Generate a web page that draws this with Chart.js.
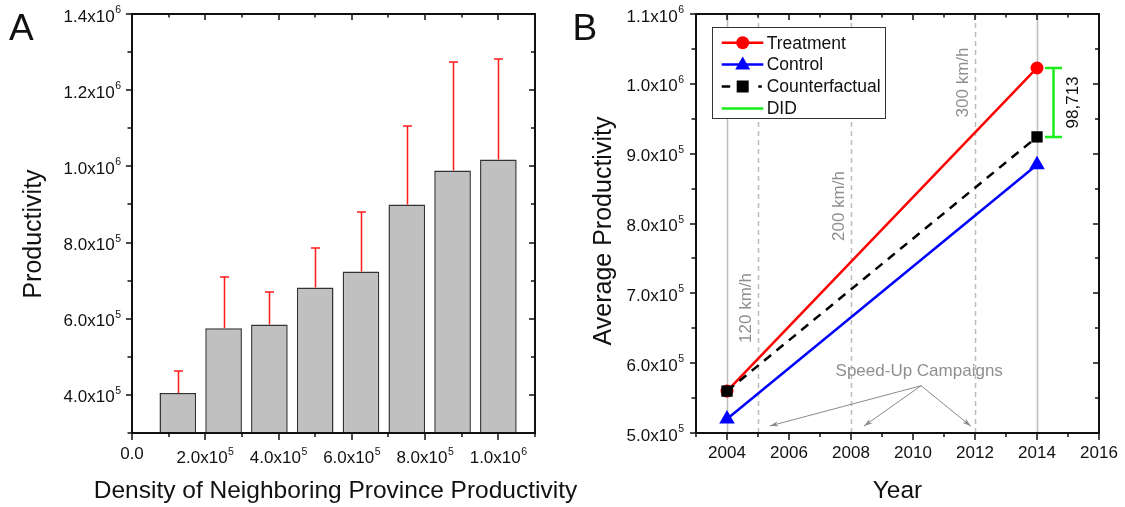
<!DOCTYPE html>
<html>
<head>
<meta charset="utf-8">
<script src="https://cdn.jsdelivr.net/npm/chart.js@4.4.1/dist/chart.umd.min.js"></script>
<style>
  html, body { margin: 0; padding: 0; background: #fff; }
  #wrap { position: relative; width: 1125px; height: 507px; overflow: hidden; }
  canvas { position: absolute; top: 0; }
  #chartA { left: 0; }
  #chartB { left: 560px; }
</style>
</head>
<body>
<div id="wrap">
  <canvas id="chartA" width="620" height="507"></canvas>
  <canvas id="chartB" width="565" height="507"></canvas>
</div>
<script>
// ---- Panel A: productivity by density of neighbouring-province productivity ----
const densityBins     = [125000, 250000, 375000, 500000, 625000, 750000, 875000, 1000000];
const productivity    = [405000, 575000, 585000, 682000, 724000, 900000, 989000, 1018000];
const productivityErr = [57000, 134000, 84000, 104000, 157000, 205000, 285000, 263000];
const tickLabelsAX = [0, 200000, 400000, 600000, 800000, 1000000];
const tickLabelsAY = [400000, 600000, 800000, 1000000, 1200000, 1400000];

// ---- Panel B: difference-in-differences of average productivity ----
const years          = [2004, 2014];
const treatment      = [560000, 1022713];
const control        = [520000, 884000];
const counterfactual = [560000, 924000];
const campaignYears  = [2005, 2008, 2012];
const campaignSpeeds = ['120 km/h', '200 km/h', '300 km/h'];
const tickLabelsBX = [2004, 2006, 2008, 2010, 2012, 2014, 2016];
const tickLabelsBY = [500000, 600000, 700000, 800000, 900000, 1000000, 1100000];

const FONT = "'Liberation Sans', Arial, Helvetica, sans-serif";
const TICK_PX = 17, SUP_PX = 10.5;

// split a value into "m.mx10" and its exponent
function sci(v) {
  if (v === 0) return { m: '0.0', e: '' };
  const e = Math.floor(Math.log10(v) + 1e-9);
  const m = (v / Math.pow(10, e)).toFixed(1);
  return { m: m + 'x10', e: String(e) };
}

function drawYLabel(ctx, v, xRight, y) {
  const p = sci(v);
  ctx.font = SUP_PX + 'px ' + FONT;
  const supW = p.e ? ctx.measureText(p.e).width + 0.5 : 0;
  ctx.textAlign = 'right';
  ctx.textBaseline = 'alphabetic';
  ctx.font = TICK_PX + 'px ' + FONT;
  ctx.fillText(p.m, xRight - supW, y + 7.5);
  if (p.e) {
    ctx.font = SUP_PX + 'px ' + FONT;
    ctx.textAlign = 'left';
    ctx.fillText(p.e, xRight - supW + 0.5, y - 1);
  }
}

function drawXLabel(ctx, p, xc, top) {
  ctx.font = TICK_PX + 'px ' + FONT;
  const mw = ctx.measureText(p.m).width;
  ctx.font = SUP_PX + 'px ' + FONT;
  const ew = p.e ? ctx.measureText(p.e).width + 0.5 : 0;
  const x0 = xc - (mw + ew) / 2;
  ctx.textAlign = 'left';
  ctx.textBaseline = 'alphabetic';
  ctx.font = TICK_PX + 'px ' + FONT;
  if (p.e) {
    ctx.fillText(p.m, x0, top + 16.6);
    ctx.font = SUP_PX + 'px ' + FONT;
    ctx.fillText(p.e, x0 + mw + 0.5, top + 8);
  } else {
    ctx.fillText(p.m, x0, top + 12.4);
  }
}

function range(min, max, step) {
  const out = [];
  const n = Math.round((max - min) / step);
  for (let i = 0; i <= n; i++) out.push(min + i * step);
  return out;
}

// frame with outward ticks on bottom/left and inward ticks on top/right
function drawFrame(chart, xTicks, yTicks, xMajor, yMajor) {
  const { ctx, chartArea: a, scales: { x, y } } = chart;
  ctx.save();
  ctx.strokeStyle = '#111';
  ctx.lineWidth = 1.5;
  ctx.beginPath();
  xTicks.forEach(v => {
    const px = Math.round(x.getPixelForValue(v));
    const major = xMajor(v);
    ctx.moveTo(px, a.bottom); ctx.lineTo(px, a.bottom + (major ? 7 : 4));
    ctx.moveTo(px, a.top); ctx.lineTo(px, a.top + (major ? 6 : 3.5));
  });
  yTicks.forEach(v => {
    const py = Math.round(y.getPixelForValue(v));
    const major = yMajor(v);
    ctx.moveTo(a.left - (major ? 6 : 4.5), py); ctx.lineTo(a.left, py);
    ctx.moveTo(a.right - (major ? 6 : 4), py); ctx.lineTo(a.right, py);
  });
  ctx.stroke();
  ctx.lineWidth = 2;
  ctx.strokeRect(a.left, a.top, a.right - a.left, a.bottom - a.top);
  ctx.restore();
}

function rotatedText(ctx, text, x, y, px, color) {
  ctx.save();
  ctx.translate(x, y);
  ctx.rotate(-Math.PI / 2);
  ctx.font = px + 'px ' + FONT;
  ctx.fillStyle = color;
  ctx.textAlign = 'center';
  ctx.textBaseline = 'middle';
  ctx.fillText(text, 0, 0);
  ctx.restore();
}

// ---------------- Panel A ----------------
const panelA = {
  id: 'panelA',
  afterDatasetsDraw(chart) {
    const { ctx, chartArea: a, scales: { x, y } } = chart;
    // upper error bars
    ctx.save();
    ctx.strokeStyle = '#ff1a1a';
    ctx.lineWidth = 1.5;
    ctx.beginPath();
    densityBins.forEach((d, i) => {
      const px = Math.round(x.getPixelForValue(d)) + 0.5;
      const y0 = y.getPixelForValue(productivity[i]);
      const y1 = Math.round(y.getPixelForValue(productivity[i] + productivityErr[i]));
      ctx.moveTo(px, y0); ctx.lineTo(px, y1);
      ctx.moveTo(px - 4.5, y1); ctx.lineTo(px + 4.5, y1);
    });
    ctx.stroke();
    ctx.restore();

    drawFrame(chart, range(0, 1100000, 100000), range(300000, 1400000, 100000),
      v => Math.round(v / 100000) % 2 === 0, v => Math.round(v / 100000) % 2 === 0);

    ctx.save();
    ctx.fillStyle = '#111';
    tickLabelsAY.forEach(v => drawYLabel(ctx, v, a.left - 11, y.getPixelForValue(v)));
    tickLabelsAX.forEach(v => drawXLabel(ctx, sci(v), x.getPixelForValue(v), a.bottom + 13.5));

    ctx.font = '24.5px ' + FONT;
    ctx.textAlign = 'center';
    ctx.textBaseline = 'alphabetic';
    ctx.fillText('Density of Neighboring Province Productivity', (a.left + a.right) / 2 + 2, 498);
    rotatedText(ctx, 'Productivity', 34, 234, 25, '#111');

    ctx.font = '37px ' + FONT;
    ctx.textAlign = 'left';
    ctx.fillText('A', 9, 40);
    ctx.restore();
  }
};

new Chart(document.getElementById('chartA'), {
  type: 'bar',
  data: {
    datasets: [{
      data: densityBins.map((d, i) => ({ x: d, y: productivity[i] })),
      backgroundColor: '#c0c0c0',
      borderColor: '#333333',
      borderWidth: 1.5,
      barPercentage: 0.8,
      categoryPercentage: 1.0
    }]
  },
  options: {
    responsive: false,
    animation: false,
    events: [],
    layout: { padding: { left: 132, right: 85, top: 14, bottom: 74 } },
    plugins: { legend: { display: false }, tooltip: { enabled: false } },
    scales: {
      x: { type: 'linear', min: 0, max: 1100000, offset: false, display: false },
      y: { type: 'linear', min: 300000, max: 1400000, display: false }
    }
  },
  plugins: [panelA]
});

// ---------------- Panel B ----------------
const GREY_TEXT = '#8f8f8f';
const GREY_LINE = '#bdbdbd';

const panelB = {
  id: 'panelB',
  beforeDatasetsDraw(chart) {
    const { ctx, chartArea: a, scales: { x } } = chart;
    ctx.save();
    ctx.strokeStyle = GREY_LINE;
    ctx.lineWidth = 1.5;
    years.forEach(yr => {
      const px = Math.round(x.getPixelForValue(yr)) + 0.5;
      ctx.beginPath(); ctx.moveTo(px, a.top); ctx.lineTo(px, a.bottom); ctx.stroke();
    });
    ctx.setLineDash([5, 4]);
    campaignYears.forEach(yr => {
      const px = Math.round(x.getPixelForValue(yr)) + 0.5;
      ctx.beginPath(); ctx.moveTo(px, a.top); ctx.lineTo(px, a.bottom); ctx.stroke();
    });
    ctx.restore();
  },
  afterDatasetsDraw(chart) {
    const { ctx, chartArea: a, scales: { x, y } } = chart;

    // campaign speed labels beside the dashed lines
    const speedLevels = [679000, 825000, 1002000];
    campaignYears.forEach((yr, i) => {
      rotatedText(ctx, campaignSpeeds[i], x.getPixelForValue(yr) - 12, y.getPixelForValue(speedLevels[i]), 17, GREY_TEXT);
    });

    // "Speed-Up Campaigns" with arrows to each campaign
    ctx.save();
    ctx.fillStyle = GREY_TEXT;
    ctx.font = '17px ' + FONT;
    ctx.textAlign = 'center';
    ctx.textBaseline = 'alphabetic';
    ctx.fillText('Speed-Up Campaigns', x.getPixelForValue(2010.2), y.getPixelForValue(582000));
    const ox = x.getPixelForValue(2010.26), oy = y.getPixelForValue(567700);
    const targets = [2005.38, 2008.42, 2011.86];
    ctx.strokeStyle = '#8a8a8a';
    ctx.lineWidth = 1;
    targets.forEach(t => {
      const tx = x.getPixelForValue(t), ty = y.getPixelForValue(510000);
      const ang = Math.atan2(ty - oy, tx - ox);
      ctx.beginPath();
      ctx.moveTo(ox, oy); ctx.lineTo(tx, ty);
      ctx.stroke();
      ctx.beginPath();
      ctx.moveTo(tx, ty);
      ctx.lineTo(tx - 9 * Math.cos(ang - 0.3), ty - 9 * Math.sin(ang - 0.3));
      ctx.lineTo(tx - 6 * Math.cos(ang), ty - 6 * Math.sin(ang));
      ctx.lineTo(tx - 9 * Math.cos(ang + 0.3), ty - 9 * Math.sin(ang + 0.3));
      ctx.closePath();
      ctx.fillStyle = '#8a8a8a';
      ctx.fill();
    });
    ctx.restore();

    // DID bracket between treatment and counterfactual in 2014
    const did = treatment[1] - counterfactual[1];
    const bx = Math.round(x.getPixelForValue(2014.52)) + 0.5;
    const yT = y.getPixelForValue(treatment[1]);
    const yC = y.getPixelForValue(counterfactual[1]);
    ctx.save();
    ctx.strokeStyle = '#19ee19';
    ctx.lineWidth = 2.5;
    ctx.beginPath();
    ctx.moveTo(bx, yT); ctx.lineTo(bx, yC);
    ctx.moveTo(bx - 8.5, yT); ctx.lineTo(bx + 8.5, yT);
    ctx.moveTo(bx - 8.5, yC); ctx.lineTo(bx + 8.5, yC);
    ctx.stroke();
    ctx.restore();
    rotatedText(ctx, did.toLocaleString('en-US'), bx + 20, (yT + yC) / 2, 17, '#111');

    drawFrame(chart, range(2003, 2016, 1), range(500000, 1100000, 50000),
      v => v % 2 === 0, v => Math.round(v / 50000) % 2 === 0);

    // legend
    ctx.save();
    const lx = a.left + 16.5, ly = a.top + 13.5, lw = 173, lh = 91;
    ctx.fillStyle = '#fff';
    ctx.fillRect(lx, ly, lw, lh);
    ctx.strokeStyle = '#333';
    ctx.lineWidth = 1;
    ctx.strokeRect(lx, ly, lw, lh);
    const rows = [
      { t: 'Treatment', c: '#ff0000', m: 'circle' },
      { t: 'Control', c: '#0000ff', m: 'triangle' },
      { t: 'Counterfactual', c: '#000000', m: 'rect' },
      { t: 'DID', c: '#19ee19', m: '' }
    ];
    const s0 = a.left + 25.7, s1 = a.left + 67.3, mx = a.left + 46.7;
    rows.forEach((r, i) => {
      const ry = a.top + 28.7 + i * 21.9;
      ctx.strokeStyle = r.c;
      ctx.fillStyle = r.c;
      ctx.lineWidth = 2.5;
      ctx.beginPath();
      if (r.m === 'rect') {
        ctx.moveTo(s0, ry); ctx.lineTo(s0 + 8.5, ry);
        ctx.moveTo(s1 - 5, ry); ctx.lineTo(s1 - 1.5, ry);
      } else {
        ctx.moveTo(s0, ry); ctx.lineTo(s1, ry);
      }
      ctx.stroke();
      if (r.m === 'circle') {
        ctx.beginPath(); ctx.arc(mx, ry, 6.5, 0, Math.PI * 2); ctx.fill();
      } else if (r.m === 'triangle') {
        ctx.beginPath();
        ctx.moveTo(mx, ry - 8); ctx.lineTo(mx + 7.5, ry + 5); ctx.lineTo(mx - 7.5, ry + 5);
        ctx.closePath(); ctx.fill();
      } else if (r.m === 'rect') {
        ctx.fillRect(mx - 6, ry - 6, 12, 12);
      }
      ctx.fillStyle = '#111';
      ctx.font = '17.5px ' + FONT;
      ctx.textAlign = 'left';
      ctx.textBaseline = 'middle';
      ctx.fillText(r.t, a.left + 70.7, ry + 1);
    });
    ctx.restore();

    // tick labels and titles
    ctx.save();
    ctx.fillStyle = '#111';
    tickLabelsBY.forEach(v => drawYLabel(ctx, v, a.left - 12, y.getPixelForValue(v)));
    tickLabelsBX.forEach(v => drawXLabel(ctx, { m: String(v), e: '' }, x.getPixelForValue(v), a.bottom + 13));
    ctx.font = '24.5px ' + FONT;
    ctx.textAlign = 'center';
    ctx.textBaseline = 'alphabetic';
    ctx.fillText('Year', (a.left + a.right) / 2, 498);
    rotatedText(ctx, 'Average Productivity', 44, 231, 25, '#111');
    ctx.fillStyle = '#111';
    ctx.font = '37px ' + FONT;
    ctx.textAlign = 'left';
    ctx.fillText('B', 12.5, 40);
    ctx.restore();
  }
};

const xy = (arr) => years.map((yr, i) => ({ x: yr, y: arr[i] }));

new Chart(document.getElementById('chartB'), {
  type: 'line',
  data: {
    datasets: [
      {
        label: 'Counterfactual', data: xy(counterfactual), order: 0,
        borderColor: '#000', borderWidth: 2.5, borderDash: [9, 7],
        pointStyle: 'rect', pointRadius: 8, pointBackgroundColor: '#000', pointBorderColor: '#000', pointBorderWidth: 0
      },
      {
        label: 'Treatment', data: xy(treatment), order: 1,
        borderColor: '#ff0000', borderWidth: 2.5,
        pointStyle: 'circle', pointRadius: 6.5, pointBackgroundColor: '#ff0000', pointBorderColor: '#ff0000', pointBorderWidth: 0
      },
      {
        label: 'Control', data: xy(control), order: 2,
        borderColor: '#0000ff', borderWidth: 2.5,
        pointStyle: 'triangle', pointRadius: 9, pointBackgroundColor: '#0000ff', pointBorderColor: '#0000ff', pointBorderWidth: 0
      }
    ]
  },
  options: {
    responsive: false,
    animation: false,
    events: [],
    layout: { padding: { left: 136, right: 26, top: 14, bottom: 74 } },
    plugins: { legend: { display: false }, tooltip: { enabled: false } },
    scales: {
      x: { type: 'linear', min: 2003, max: 2016, display: false },
      y: { type: 'linear', min: 500000, max: 1100000, display: false }
    }
  },
  plugins: [panelB]
});
</script>
</body>
</html>
